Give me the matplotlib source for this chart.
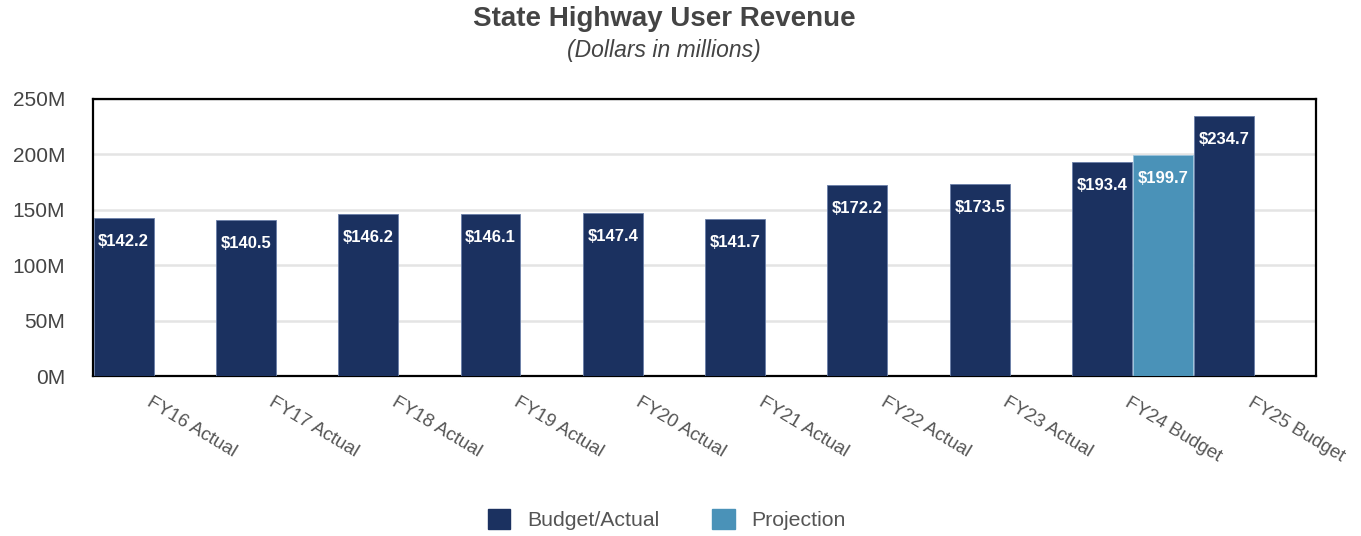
import matplotlib.pyplot as plt
from matplotlib.patches import Patch
import numpy as np

categories = ["FY16 Actual", "FY17 Actual", "FY18 Actual", "FY19 Actual", "FY20 Actual",
              "FY21 Actual", "FY22 Actual", "FY23 Actual", "FY24 Budget", "FY25 Budget"]
budget_actual = [142.2, 140.5, 146.2, 146.1, 147.4, 141.7, 172.2, 173.5, 193.4, 234.7]
projection = [None, None, None, None, None, None, None, None, 199.7, None]
y_ticks = [0, 50, 100, 150, 200, 250]

NAVY = "#1b3160"
LIGHT = "#4a92b8"
TEXT = "#444444"

plt.rcParams["font.family"] = ["Liberation Sans", "DejaVu Sans"]

fig = plt.figure(figsize=(13.61, 5.36), dpi=100)
ax = fig.add_axes([0.0683, 0.2985, 0.8987, 0.517])

x = np.arange(len(categories))
w = 0.49

ax.bar(x - 0.25, budget_actual, width=w, color=NAVY, edgecolor="#6a7fa8", linewidth=0.6, zorder=3)
px = [i + 0.25 for i, v in enumerate(projection) if v is not None]
pv = [v for v in projection if v is not None]
ax.bar(px, pv, width=w, color=LIGHT, edgecolor="#9cc4dc", linewidth=0.6, zorder=3)

for xi, v in zip(x - 0.25, budget_actual):
    ax.annotate(f"${v:.1f}", (xi, v), xytext=(0, -17), textcoords="offset points",
                ha="center", va="center", color="white", fontsize=12, fontweight="bold", zorder=4)
for xi, v in zip(px, pv):
    ax.annotate(f"${v:.1f}", (xi, v), xytext=(0, -17), textcoords="offset points",
                ha="center", va="center", color="white", fontsize=12, fontweight="bold", zorder=4)

ax.set_xlim(-0.5, len(categories) - 0.5)
ax.set_ylim(0, 250)
ax.set_yticks(y_ticks)
ax.set_yticklabels([f"{t}M" for t in y_ticks], fontsize=15, color=TEXT)
ax.tick_params(axis="y", length=0, pad=20)
ax.grid(axis="y", color="#e4e4e4", linewidth=1.8, zorder=0)

ax.set_xticks(x)
ax.set_xticklabels([])
ax.tick_params(axis="x", length=0)
for xi, lab in zip(x, categories):
    ax.annotate(lab, (xi, 0), xytext=(-1, -13), textcoords="offset points",
                ha="left", va="top", rotation=-31, rotation_mode="anchor",
                fontsize=13.5, color="#555555", annotation_clip=False)

for s in ax.spines.values():
    s.set_color("black")
    s.set_linewidth(1.6)

fig.text(0.488, 0.965, "State Highway User Revenue", ha="center", va="center",
         fontsize=20, fontweight="bold", color=TEXT)
fig.text(0.488, 0.905, "(Dollars in millions)", ha="center", va="center",
         fontsize=16.5, style="italic", color=TEXT)

handles = [Patch(color=NAVY, label="Budget/Actual"), Patch(color=LIGHT, label="Projection")]
fig.legend(handles=handles, loc="center", bbox_to_anchor=(0.49, 0.031), ncol=2, frameon=False,
           fontsize=15.3, handlelength=1.05, handleheight=1.05, columnspacing=2.5, handletextpad=0.8,
           labelcolor="#555555")

fig.savefig("out.png", dpi=100)
